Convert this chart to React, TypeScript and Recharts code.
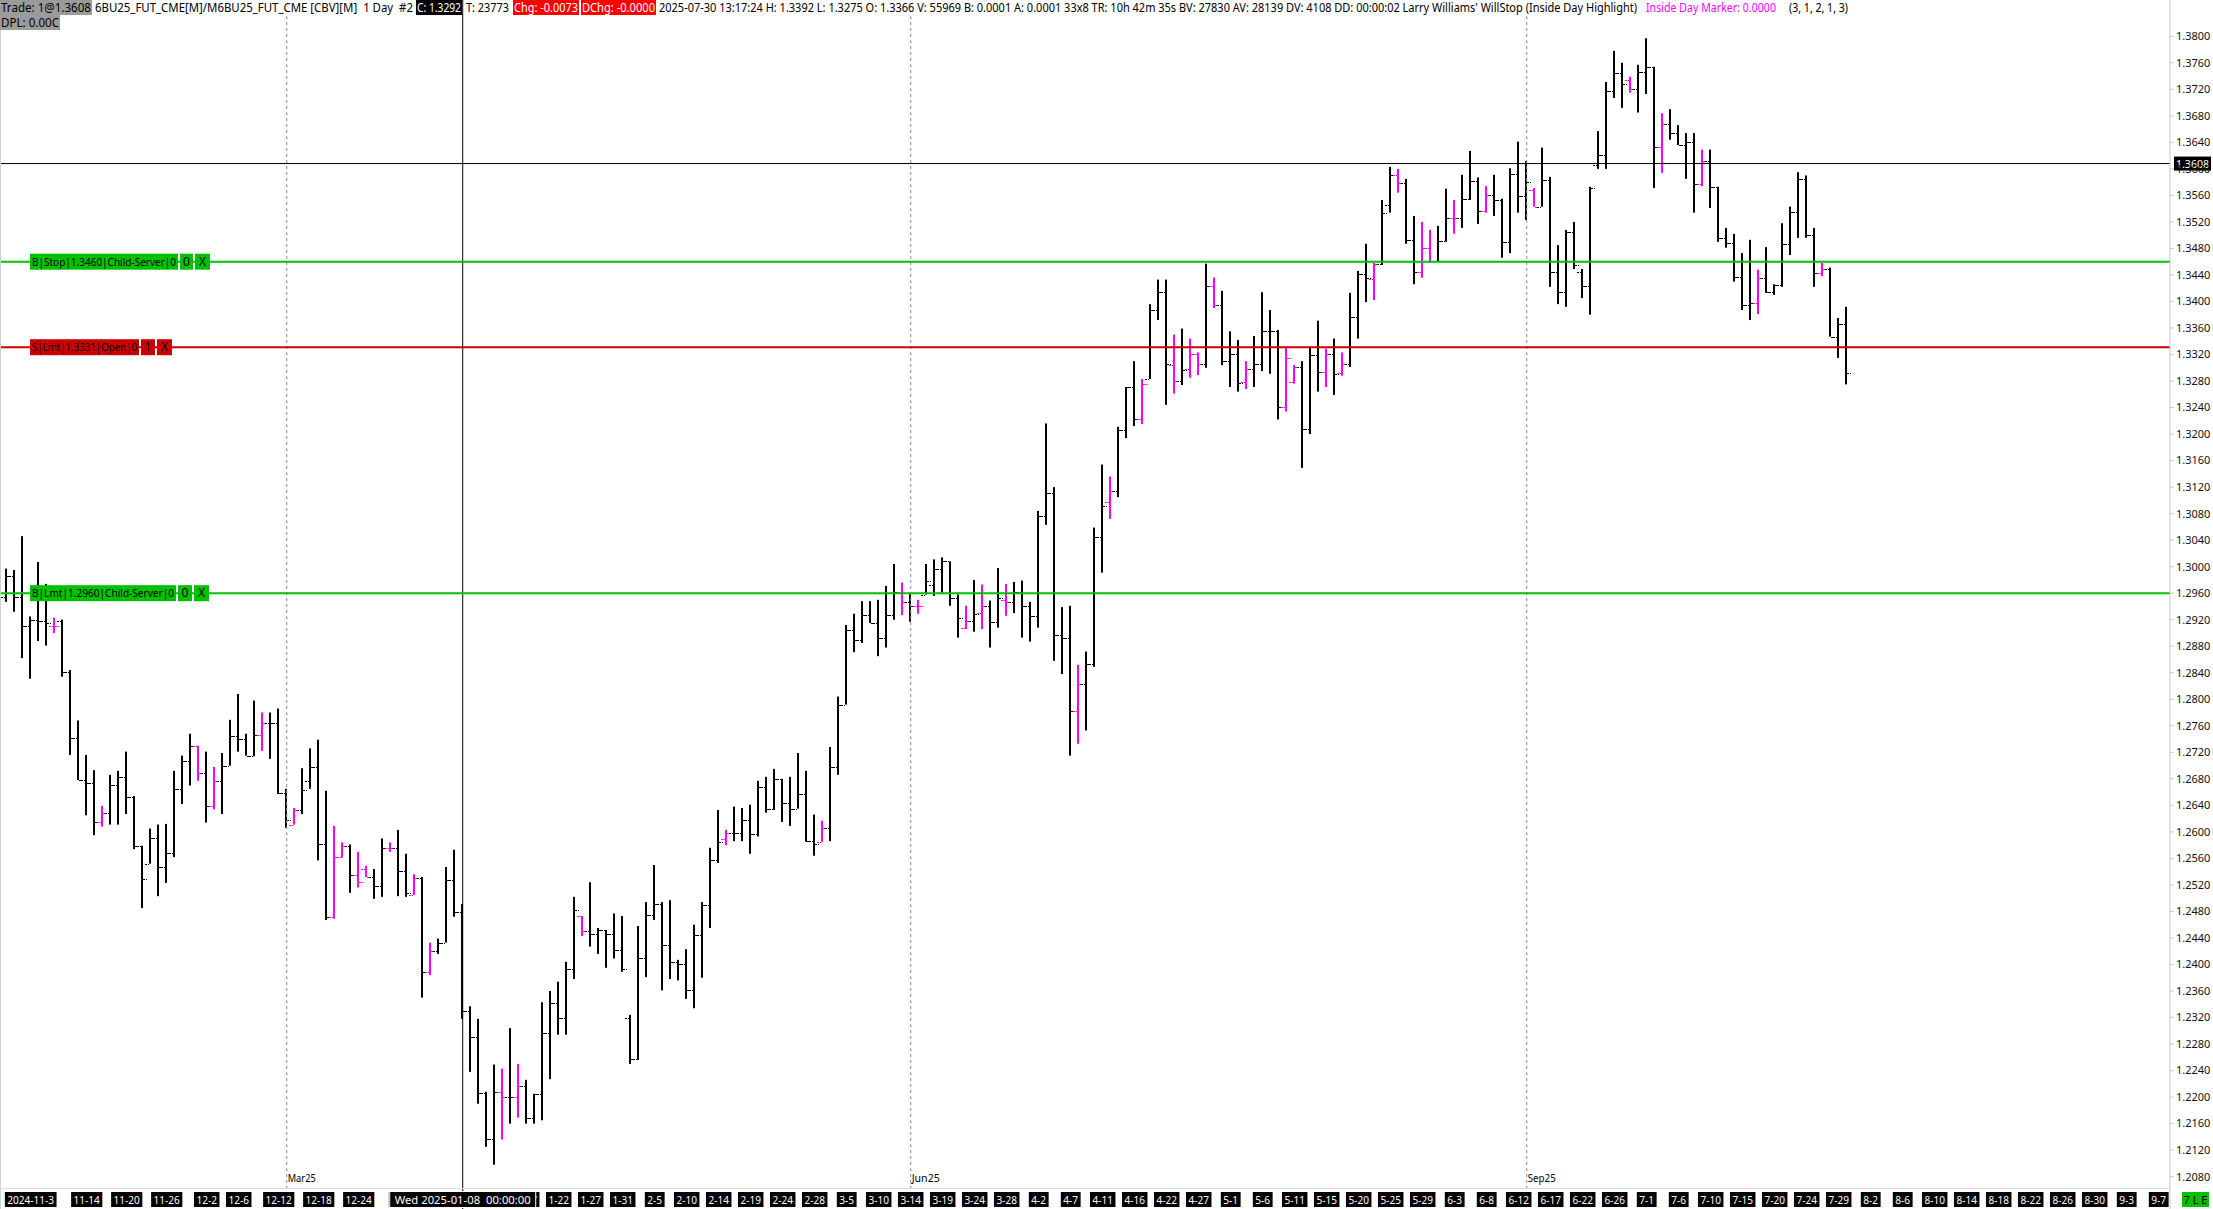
import { ComposedChart, Bar, XAxis, YAxis, ReferenceLine } from 'recharts';

const W = 2213;
const H = 1209;
const FONT = "'Segoe UI', 'Noto Sans', sans-serif";

// daily OHLC, 6BU25
const opens = [
  1.2955, 1.2986, 1.2955, 1.2910, 1.2920, 1.2918, 1.2910, 1.2918, 1.2841, 1.2742,
  1.2678, 1.2674, 1.2615, 1.2629, 1.2671, 1.2683, 1.2653, 1.2579, 1.2552, 1.2591,
  1.2547, 1.2568, 1.2665, 1.2707, 1.2730, 1.2689, 1.2639, 1.2677, 1.2700, 1.2745,
  1.2740, 1.2715, 1.2746, 1.2764, 1.2764, 1.2659, 1.2611, 1.2633, 1.2677, 1.2698,
  1.2581, 1.2471, 1.2562, 1.2578, 1.2535, 1.2544, 1.2532, 1.2519, 1.2576, 1.2576,
  1.2541, 1.2505, 1.2530, 1.2389, 1.2421, 1.2433, 1.2527, 1.2479, 1.2330, 1.2291,
  1.2206, 1.2137, 1.2208, 1.2200, 1.2200, 1.2217, 1.2168, 1.2205, 1.2297, 1.2342,
  1.2319, 1.2393, 1.2473, 1.2451, 1.2446, 1.2452, 1.2446, 1.2422, 1.2320, 1.2257,
  1.2409, 1.2475, 1.2491, 1.2430, 1.2404, 1.2401, 1.2361, 1.2445, 1.2490, 1.2557,
  1.2589, 1.2599, 1.2599, 1.2618, 1.2597, 1.2668, 1.2635, 1.2680, 1.2644, 1.2635,
  1.2657, 1.2586, 1.2585, 1.2606, 1.2698, 1.2792, 1.2905, 1.2890, 1.2927, 1.2915,
  1.2893, 1.2927, 1.2962, 1.2946, 1.2941, 1.2958, 1.2972, 1.2996, 1.3008, 1.2952,
  1.2908, 1.2918, 1.2930, 1.2941, 1.2917, 1.2950, 1.2947, 1.2962, 1.2940, 1.2926,
  1.3077, 1.3111, 1.2897, 1.2893, 1.2783, 1.2823, 1.2853, 1.3044, 1.3098, 1.3114,
  1.3206, 1.3271, 1.3223, 1.3283, 1.3387, 1.3414, 1.3304, 1.3280, 1.3298, 1.3321,
  1.3306, 1.3424, 1.3395, 1.3310, 1.3321, 1.3279, 1.3298, 1.3306, 1.3356, 1.3356,
  1.3241, 1.3279, 1.3301, 1.3208, 1.3320, 1.3294, 1.3321, 1.3292, 1.3306, 1.3377,
  1.3441, 1.3434, 1.3457, 1.3546, 1.3590, 1.3579, 1.3493, 1.3445, 1.3481, 1.3461,
  1.3491, 1.3526, 1.3526, 1.3555, 1.3582, 1.3537, 1.3561, 1.3553, 1.3490, 1.3592,
  1.3559, 1.3568, 1.3543, 1.3583, 1.3445, 1.3415, 1.3505, 1.3445, 1.3423, 1.3606,
  1.3621, 1.3718, 1.3745, 1.3734, 1.3721, 1.3746, 1.3754, 1.3633, 1.3668, 1.3654,
  1.3636, 1.3641, 1.3577, 1.3612, 1.3573, 1.3496, 1.3488, 1.3437, 1.3395, 1.3398,
  1.3435, 1.3415, 1.3425, 1.3487, 1.3535, 1.3585, 1.3500, 1.3443, 1.3449, 1.3347,
  1.3366,
];

const highs = [
  1.2997, 1.2995, 1.3046, 1.2925, 1.3007, 1.2974, 1.2923, 1.2920, 1.2844, 1.2768,
  1.2716, 1.2693, 1.2639, 1.2686, 1.2692, 1.2721, 1.2654, 1.2579, 1.2605, 1.2611,
  1.2612, 1.2692, 1.2715, 1.2748, 1.2730, 1.2721, 1.2698, 1.2719, 1.2769, 1.2808,
  1.2748, 1.2798, 1.2780, 1.2780, 1.2786, 1.2665, 1.2636, 1.2696, 1.2726, 1.2739,
  1.2662, 1.2609, 1.2584, 1.2581, 1.2570, 1.2549, 1.2544, 1.2590, 1.2584, 1.2603,
  1.2567, 1.2536, 1.2532, 1.2433, 1.2439, 1.2547, 1.2573, 1.2491, 1.2337, 1.2318,
  1.2208, 1.2249, 1.2243, 1.2304, 1.2250, 1.2226, 1.2205, 1.2343, 1.2360, 1.2374,
  1.2404, 1.2502, 1.2473, 1.2524, 1.2455, 1.2452, 1.2477, 1.2473, 1.2324, 1.2458,
  1.2494, 1.2550, 1.2494, 1.2497, 1.2407, 1.2423, 1.2460, 1.2494, 1.2576, 1.2633,
  1.2603, 1.2638, 1.2636, 1.2641, 1.2677, 1.2683, 1.2695, 1.2680, 1.2683, 1.2719,
  1.2692, 1.2626, 1.2617, 1.2728, 1.2804, 1.2912, 1.2929, 1.2948, 1.2948, 1.2950,
  1.2971, 1.3004, 1.2976, 1.2959, 1.2950, 1.3004, 1.3011, 1.3014, 1.3008, 1.2958,
  1.2941, 1.2980, 1.2973, 1.2949, 1.2998, 1.2974, 1.2977, 1.2979, 1.2947, 1.3084,
  1.3216, 1.3120, 1.2939, 1.2941, 1.2852, 1.2872, 1.3059, 1.3154, 1.3136, 1.3211,
  1.3271, 1.3310, 1.3283, 1.3396, 1.3433, 1.3433, 1.3350, 1.3359, 1.3344, 1.3323,
  1.3457, 1.3436, 1.3416, 1.3355, 1.3342, 1.3310, 1.3348, 1.3414, 1.3387, 1.3357,
  1.3332, 1.3304, 1.3310, 1.3332, 1.3371, 1.3329, 1.3344, 1.3323, 1.3413, 1.3446,
  1.3487, 1.3458, 1.3553, 1.3603, 1.3600, 1.3585, 1.3529, 1.3520, 1.3508, 1.3514,
  1.3570, 1.3553, 1.3591, 1.3627, 1.3587, 1.3574, 1.3591, 1.3555, 1.3601, 1.3641,
  1.3612, 1.3571, 1.3632, 1.3588, 1.3485, 1.3508, 1.3520, 1.3449, 1.3573, 1.3657,
  1.3731, 1.3778, 1.3760, 1.3739, 1.3757, 1.3797, 1.3754, 1.3684, 1.3690, 1.3666,
  1.3654, 1.3654, 1.3629, 1.3629, 1.3573, 1.3511, 1.3502, 1.3473, 1.3493, 1.3448,
  1.3482, 1.3426, 1.3518, 1.3543, 1.3595, 1.3590, 1.3511, 1.3458, 1.3451, 1.3375,
  1.3392,
];

const lows = [
  1.2947, 1.2932, 1.2862, 1.2831, 1.2888, 1.2881, 1.2900, 1.2834, 1.2716, 1.2678,
  1.2625, 1.2595, 1.2608, 1.2611, 1.2611, 1.2627, 1.2574, 1.2485, 1.2552, 1.2503,
  1.2523, 1.2562, 1.2642, 1.2670, 1.2677, 1.2614, 1.2634, 1.2627, 1.2700, 1.2721,
  1.2715, 1.2714, 1.2722, 1.2710, 1.2657, 1.2606, 1.2611, 1.2627, 1.2665, 1.2557,
  1.2467, 1.2469, 1.2561, 1.2508, 1.2516, 1.2532, 1.2499, 1.2502, 1.2570, 1.2503,
  1.2502, 1.2505, 1.2350, 1.2384, 1.2416, 1.2433, 1.2472, 1.2318, 1.2238, 1.2190,
  1.2125, 1.2098, 1.2136, 1.2160, 1.2169, 1.2160, 1.2160, 1.2165, 1.2227, 1.2294,
  1.2294, 1.2378, 1.2443, 1.2427, 1.2416, 1.2395, 1.2409, 1.2389, 1.2250, 1.2256,
  1.2381, 1.2467, 1.2361, 1.2378, 1.2376, 1.2348, 1.2334, 1.2380, 1.2455, 1.2553,
  1.2580, 1.2586, 1.2586, 1.2567, 1.2593, 1.2629, 1.2633, 1.2615, 1.2609, 1.2635,
  1.2585, 1.2564, 1.2585, 1.2586, 1.2686, 1.2792, 1.2871, 1.2885, 1.2915, 1.2865,
  1.2878, 1.2920, 1.2927, 1.2917, 1.2929, 1.2958, 1.2956, 1.2961, 1.2941, 1.2893,
  1.2906, 1.2902, 1.2906, 1.2878, 1.2908, 1.2926, 1.2930, 1.2893, 1.2887, 1.2908,
  1.3063, 1.2858, 1.2838, 1.2715, 1.2733, 1.2753, 1.2849, 1.2991, 1.3072, 1.3105,
  1.3194, 1.3212, 1.3215, 1.3283, 1.3372, 1.3244, 1.3261, 1.3274, 1.3285, 1.3289,
  1.3300, 1.3390, 1.3304, 1.3271, 1.3264, 1.3268, 1.3271, 1.3295, 1.3291, 1.3222,
  1.3234, 1.3276, 1.3149, 1.3200, 1.3264, 1.3271, 1.3259, 1.3288, 1.3301, 1.3344,
  1.3399, 1.3402, 1.3455, 1.3534, 1.3564, 1.3487, 1.3426, 1.3436, 1.3458, 1.3461,
  1.3490, 1.3502, 1.3511, 1.3553, 1.3517, 1.3534, 1.3529, 1.3466, 1.3473, 1.3534,
  1.3523, 1.3543, 1.3543, 1.3422, 1.3396, 1.3392, 1.3449, 1.3405, 1.3380, 1.3600,
  1.3600, 1.3707, 1.3692, 1.3715, 1.3685, 1.3713, 1.3571, 1.3594, 1.3644, 1.3636,
  1.3585, 1.3534, 1.3574, 1.3541, 1.3490, 1.3481, 1.3430, 1.3387, 1.3372, 1.3381,
  1.3413, 1.3410, 1.3422, 1.3470, 1.3496, 1.3496, 1.3422, 1.3438, 1.3347, 1.3315,
  1.3275,
];

const closes = [
  1.2986, 1.2955, 1.2910, 1.2920, 1.2918, 1.2915, 1.2910, 1.2841, 1.2742, 1.2678,
  1.2674, 1.2615, 1.2629, 1.2671, 1.2683, 1.2653, 1.2579, 1.2529, 1.2591, 1.2547,
  1.2568, 1.2665, 1.2707, 1.2730, 1.2689, 1.2639, 1.2677, 1.2700, 1.2745, 1.2740,
  1.2715, 1.2746, 1.2764, 1.2764, 1.2659, 1.2618, 1.2633, 1.2663, 1.2698, 1.2581,
  1.2471, 1.2562, 1.2578, 1.2535, 1.2525, 1.2532, 1.2519, 1.2576, 1.2576, 1.2541,
  1.2508, 1.2530, 1.2389, 1.2421, 1.2433, 1.2527, 1.2479, 1.2330, 1.2291, 1.2206,
  1.2137, 1.2208, 1.2200, 1.2200, 1.2217, 1.2168, 1.2205, 1.2297, 1.2342, 1.2319,
  1.2393, 1.2482, 1.2451, 1.2446, 1.2452, 1.2446, 1.2422, 1.2393, 1.2257, 1.2409,
  1.2475, 1.2491, 1.2430, 1.2404, 1.2401, 1.2361, 1.2445, 1.2490, 1.2557, 1.2585,
  1.2599, 1.2599, 1.2618, 1.2597, 1.2668, 1.2635, 1.2680, 1.2644, 1.2635, 1.2657,
  1.2586, 1.2582, 1.2606, 1.2698, 1.2792, 1.2905, 1.2890, 1.2927, 1.2915, 1.2893,
  1.2927, 1.2962, 1.2946, 1.2941, 1.2941, 1.2979, 1.2996, 1.3008, 1.2952, 1.2923,
  1.2918, 1.2929, 1.2941, 1.2917, 1.2952, 1.2947, 1.2962, 1.2940, 1.2926, 1.3077,
  1.3111, 1.2897, 1.2893, 1.2783, 1.2823, 1.2853, 1.3044, 1.3092, 1.3114, 1.3206,
  1.3271, 1.3223, 1.3276, 1.3387, 1.3414, 1.3306, 1.3280, 1.3297, 1.3321, 1.3306,
  1.3424, 1.3395, 1.3310, 1.3321, 1.3277, 1.3298, 1.3306, 1.3356, 1.3356, 1.3241,
  1.3314, 1.3301, 1.3208, 1.3320, 1.3294, 1.3321, 1.3291, 1.3306, 1.3377, 1.3441,
  1.3435, 1.3457, 1.3534, 1.3590, 1.3579, 1.3493, 1.3445, 1.3481, 1.3461, 1.3491,
  1.3526, 1.3526, 1.3555, 1.3582, 1.3537, 1.3561, 1.3553, 1.3490, 1.3592, 1.3559,
  1.3580, 1.3543, 1.3583, 1.3445, 1.3415, 1.3505, 1.3455, 1.3423, 1.3571, 1.3621,
  1.3718, 1.3745, 1.3728, 1.3721, 1.3746, 1.3754, 1.3633, 1.3668, 1.3654, 1.3636,
  1.3641, 1.3577, 1.3612, 1.3573, 1.3496, 1.3488, 1.3437, 1.3395, 1.3398, 1.3435,
  1.3415, 1.3425, 1.3487, 1.3535, 1.3585, 1.3500, 1.3443, 1.3449, 1.3347, 1.3366,
  1.3292,
];

// bars painted by the "Inside Day Highlight" study
const insideDays = [
  6, 12, 24, 26, 32, 36, 41, 42, 44, 45, 48, 51, 53, 62, 64, 72, 90, 102, 112, 114,
  120, 122, 125, 134, 138, 142, 146, 148, 149, 151, 155, 160, 161, 165, 167, 171, 174,
  177, 178, 181, 185, 191, 203, 207, 212, 219, 227,
];

// bottom time scale: bar slot -> label (future slots continue past the last bar)
const dateTicks = [
  3, 10, 15, 20, 25, 29, 34, 39, 44, 49, 65, 69, 73, 77, 81, 85, 89, 93, 97, 101,
  105, 109, 113, 117, 121, 125, 129, 133, 137, 141, 145, 149, 153, 157, 161, 165, 169, 173, 177, 181,
  185, 189, 193, 197, 201, 205, 209, 213, 217, 221, 225, 229, 233, 237, 241, 245, 249, 253, 257, 261,
  265, 269,
];
const dateLabels = [
  '2024-11-3', '11-14', '11-20', '11-26', '12-2', '12-6', '12-12', '12-18', '12-24', '1-2', '1-17', '1-22', '1-27', '1-31', '2-5', '2-10', '2-14', '2-19', '2-24', '2-28',
  '3-5', '3-10', '3-14', '3-19', '3-24', '3-28', '4-2', '4-7', '4-11', '4-16', '4-22', '4-27', '5-1', '5-6', '5-11', '5-15', '5-20', '5-25', '5-29', '6-3',
  '6-8', '6-12', '6-17', '6-22', '6-26', '7-1', '7-6', '7-10', '7-15', '7-20', '7-24', '7-29', '8-2', '8-6', '8-10', '8-14', '8-18', '8-22', '8-26', '8-30',
  '9-3', '9-7',
];

const priceTicks = [
  1.208, 1.212, 1.216, 1.22, 1.224, 1.228, 1.232, 1.236, 1.24, 1.244, 1.248,
  1.252, 1.256, 1.26, 1.264, 1.268, 1.272, 1.276, 1.28, 1.284, 1.288, 1.292,
  1.296, 1.3, 1.304, 1.308, 1.312, 1.316, 1.32, 1.324, 1.328, 1.332, 1.336,
  1.34, 1.344, 1.348, 1.352, 1.356, 1.36, 1.364, 1.368, 1.372, 1.376, 1.38,
];

// contract roll separators
const rollBars = [35, 113, 190];
const rollLabels = ['Mar25', 'Jun25', 'Sep25'];

const crosshairBar = 57;
const crosshairLabel = 'Wed 2025-01-08  00:00:00';
const tradePrice = 1.3608;

const orders = [
  { price: 1.346, color: '#00c000', parts: ['B|Stop|1.3460|Child-Server|0', '0', 'X'] },
  { price: 1.3331, color: '#cc0000', parts: ['S|Lmt|1.3331|Open|0', '1', 'X'] },
  { price: 1.296, color: '#00c000', parts: ['B|Lmt|1.2960|Child-Server|0', '0', 'X'] },
];
const orderWidths = [
  [148, 13, 15],
  [109, 14, 15],
  [146, 14, 15],
];

const headerRow1 = [
  { x: 0, w: 92, text: 'Trade: 1@1.3608', bg: '#9b9b9b', fg: '#000' },
  { x: 94, w: 320, text: '6BU25_FUT_CME[M]/M6BU25_FUT_CME [CBV][M]  1 Day  #2', bg: '', fg: '#000' },
  { x: 416, w: 46, text: 'C: 1.3292', bg: '#000', fg: '#fff' },
  { x: 465, w: 45, text: 'T: 23773', bg: '', fg: '#000' },
  { x: 513, w: 66, text: 'Chg: -0.0073', bg: '#ff0000', fg: '#fff' },
  { x: 581, w: 75, text: 'DChg: -0.0000', bg: '#ff0000', fg: '#fff' },
  {
    x: 658, w: 980,
    text: "2025-07-30 13:17:24 H: 1.3392 L: 1.3275 O: 1.3366 V: 55969 B: 0.0001 A: 0.0001 33x8 TR: 10h 42m 35s BV: 27830 AV: 28139 DV: 4108 DD: 00:00:02 Larry Williams' WillStop (Inside Day Highlight)",
    bg: '', fg: '#000',
  },
  { x: 1645, w: 132, text: 'Inside Day Marker: 0.0000', bg: '', fg: '#ff00ff' },
  { x: 1788, w: 61, text: '(3, 1, 2, 1, 3)', bg: '', fg: '#000' },
];
const headerRow2 = [{ x: 0, w: 60, text: 'DPL: 0.00C', bg: '#9b9b9b', fg: '#000' }];

const data = opens.map((open, i) => ({
  i,
  open,
  high: highs[i],
  low: lows[i],
  close: closes[i],
  range: [lows[i], highs[i]],
  inside: insideDays.includes(i),
}));

function OhlcBar(props: any) {
  const { x, y, width, height, payload } = props;
  if (x == null || !payload) return null;
  const top = Math.min(y, y + height);
  const h = Math.abs(height);
  const span = payload.high - payload.low;
  const at = (v: number) => (span > 0 ? top + ((payload.high - v) / span) * h : top);
  const cx = Math.round(x + width / 2);
  const color = payload.inside ? '#ff00ff' : '#000000';
  const yo = Math.round(at(payload.open)) + 0.5;
  const yc = Math.round(at(payload.close)) + 0.5;
  return (
    <g>
      <rect x={cx - 1} y={top} width={2} height={Math.max(h, 1)} fill={color} />
      <line x1={cx - 5} x2={cx - 1} y1={yo} y2={yo} stroke={color} strokeDasharray="2 1" />
      <line x1={cx + 1} x2={cx + 5} y1={yc} y2={yc} stroke={color} strokeDasharray="2 1" />
    </g>
  );
}

function labelWidth(s: string) {
  let w = 0;
  for (const ch of s) w += ch === '-' ? 3.4 : 5.7;
  return w;
}

function DateTick(props: any) {
  const { x, payload } = props;
  const idx = dateTicks.indexOf(payload?.value);
  if (idx < 0) return null;
  const text = dateLabels[idx];
  const tw = labelWidth(text);
  const bw = tw + 5;
  return (
    <g>
      <rect x={x - bw / 2} y={1192} width={bw} height={15} fill="#000" />
      <text
        x={x}
        y={1203.5}
        textAnchor="middle"
        fill="#fff"
        fontSize={10}
        fontFamily={FONT}
        textLength={tw}
        lengthAdjust="spacingAndGlyphs"
      >
        {text}
      </text>
    </g>
  );
}

// time tag of the crosshair, drawn by its own axis so it sits over the date scale
function CrosshairTick(props: any) {
  const { x } = props;
  if (x == null) return null;
  return (
    <g>
      <rect x={x - 73} y={1191.5} width={146} height={16} fill="#000" stroke="#fff" />
      <text x={x} y={1203.5} textAnchor="middle" fontSize={11} fontFamily={FONT} fill="#fff" style={{ whiteSpace: 'pre' }} textLength={136} lengthAdjust="spacingAndGlyphs">
        {crosshairLabel}
      </text>
    </g>
  );
}

function OrderTag({ viewBox, k }: any) {
  if (!viewBox) return null;
  const o = orders[k];
  const ws = orderWidths[k];
  const y = viewBox.y;
  let x = 30;
  return (
    <g>
      {o.parts.map((p, j) => {
        const bx = x;
        x += ws[j] + 2;
        const long = p.length > 3;
        return (
          <g key={j}>
            <rect x={bx} y={y - 8} width={ws[j]} height={16} fill={o.color} />
            <text
              x={bx + ws[j] / 2}
              y={y + 4}
              textAnchor="middle"
              fontSize={long ? 10 : 12}
              fontFamily={FONT}
              fill="#000"
              {...(long ? { textLength: ws[j] - 4, lengthAdjust: 'spacingAndGlyphs' } : {})}
            >
              {p}
            </text>
          </g>
        );
      })}
    </g>
  );
}

function TradeTag({ viewBox }: any) {
  if (!viewBox) return null;
  const right = viewBox.x + viewBox.width;
  return (
    <g>
      <rect x={right + 4} y={viewBox.y - 7} width={37} height={14} fill="#000" />
      <text x={right + 6} y={viewBox.y + 4} fontSize={11} fontFamily={FONT} fill="#fff" textLength={33} lengthAdjust="spacingAndGlyphs">
        {tradePrice.toFixed(4)}
      </text>
    </g>
  );
}

function RollTag({ viewBox, k }: any) {
  if (!viewBox) return null;
  return (
    <text x={viewBox.x + 1} y={1182} fontSize={11} fontFamily={FONT} fill="#000" textLength={28} lengthAdjust="spacingAndGlyphs">
      {rollLabels[k]}
    </text>
  );
}

function HeaderRow({ items, top }: any) {
  return (
    <>
      {items.map((s: any, j: number) => (
        <g key={j}>
          {s.bg ? <rect x={s.x} y={top} width={s.w} height={15} fill={s.bg} /> : null}
          <text
            x={s.x + 1}
            y={top + 11.5}
            fontSize={12}
            fontFamily={FONT}
            fill={s.fg}
            style={{ whiteSpace: 'pre' }}
            textLength={s.w - 2}
            lengthAdjust="spacingAndGlyphs"
          >
            {s.text}
          </text>
        </g>
      ))}
    </>
  );
}

export default function App() {
  const yTop = 1.38547;
  const yBottom = yTop - H / 6630;
  const xDomain = [-0.84, 270.41];
  return (
    <div style={{ position: 'absolute', left: 0, top: 0, width: W, height: H, background: '#fff', fontFamily: FONT }}>
      <ComposedChart width={W} height={H} data={data} margin={{ top: 0, right: 0, bottom: 0, left: 0 }}>
        <XAxis
          type="number"
          dataKey="i"
          domain={xDomain}
          allowDataOverflow
          ticks={dateTicks}
          interval={0}
          tick={(p: any) => <DateTick {...p} />}
          tickLine={false}
          axisLine={false}
          mirror
          height={20}
        />
        <XAxis
          xAxisId="cross"
          type="number"
          dataKey="i"
          domain={xDomain}
          allowDataOverflow
          ticks={[crosshairBar]}
          interval={0}
          tick={(p: any) => <CrosshairTick {...p} />}
          tickLine={false}
          axisLine={false}
          mirror
          height={20}
        />
        <YAxis
          orientation="right"
          type="number"
          domain={[yBottom, yTop]}
          allowDataOverflow
          ticks={priceTicks}
          interval={0}
          width={43}
          tickSize={4}
          tickMargin={2}
          tickFormatter={(v: number) => v.toFixed(4)}
          tick={{ fontSize: 11, fill: '#111', fontFamily: FONT }}
          stroke="#c8c8c8"
        />
        {rollBars.map((b, k) => (
          <ReferenceLine
            key={b}
            segment={[{ x: b, y: yTop - 16 / 6630 }, { x: b, y: yTop - 1188 / 6630 }]}
            stroke="#8a8a8a"
            strokeDasharray="3 3"
            label={(p: any) => <RollTag viewBox={p.viewBox} k={k} />}
          />
        ))}
        <Bar dataKey="range" barSize={8} shape={OhlcBar} isAnimationActive={false} />
        <ReferenceLine x={crosshairBar} stroke="#000" strokeWidth={1} />
        <ReferenceLine y={tradePrice} stroke="#000" strokeWidth={1} label={(p: any) => <TradeTag viewBox={p.viewBox} />} />
        {orders.map((o, k) => (
          <ReferenceLine
            key={o.price}
            y={o.price}
            stroke={o.color}
            strokeWidth={2}
            label={(p: any) => <OrderTag viewBox={p.viewBox} k={k} />}
          />
        ))}
      </ComposedChart>
      <svg width={W} height={H} style={{ position: 'absolute', left: 0, top: 0, pointerEvents: 'none' }}>
        <line x1={0.5} x2={0.5} y1={0} y2={H} stroke="#d0d0d0" />
        <line x1={0} x2={2170} y1={1188.5} y2={1188.5} stroke="#dcdcdc" />
        <HeaderRow items={headerRow1} top={0} />
        <HeaderRow items={headerRow2} top={15} />
        <rect x={2182} y={1192} width={27} height={15} fill="#00c000" />
        <text x={2195.5} y={1203.5} textAnchor="middle" fontSize={11} fontFamily={FONT} fill="#000" style={{ whiteSpace: 'pre' }}>
          7 L E
        </text>
      </svg>
    </div>
  );
}
